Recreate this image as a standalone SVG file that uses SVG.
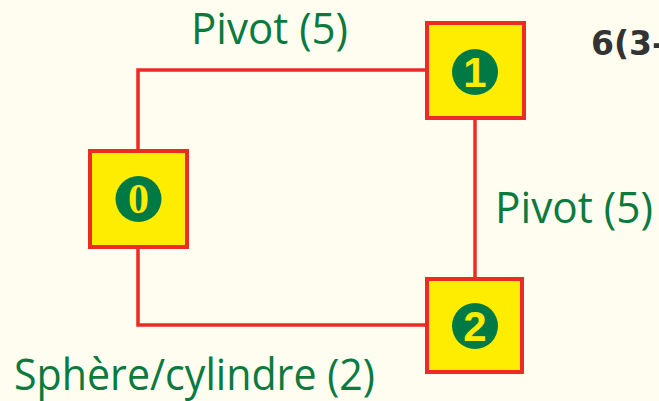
<svg xmlns="http://www.w3.org/2000/svg" width="659" height="401" viewBox="0 0 659 401">
  <style>
    .box { fill: #FFED00; stroke: #EE2A24; stroke-width: 4; }
    .disc { fill: #007A45; }
    .num { fill: #FFED00; font-weight: bold; text-anchor: middle; }
    .sans { font-family: "Liberation Sans", Arial, sans-serif; font-size: 42px; }
    .serif { font-family: "Liberation Serif", "Times New Roman", serif; font-size: 42px; }
    .label { fill: #0B7A3E; font-family: "Open Sans", "Noto Sans", sans-serif; font-size: 43px; }
    .wire { fill: none; stroke: #EE2A24; stroke-width: 3.5; }
  </style>
  <rect width="659" height="401" fill="#FFFDF0"/>

  <g id="connectors">
    <polyline class="wire" points="138,150 138,70 425,70"/>
    <line class="wire" x1="475" y1="119" x2="475" y2="277"/>
    <polyline class="wire" points="138,248 138,325 425,325"/>
  </g>

  <g id="node0">
    <rect class="box" x="90" y="151" width="97" height="96"/>
    <circle class="disc" cx="138.5" cy="199" r="23"/>
    <text class="num serif" x="138.5" y="213">0</text>
  </g>

  <g id="node1">
    <rect class="box" x="427" y="23" width="97" height="95"/>
    <circle class="disc" cx="475" cy="72" r="23"/>
    <text class="num sans" x="475" y="87">1</text>
  </g>

  <g id="node2">
    <rect class="box" x="427" y="279" width="95" height="93"/>
    <circle class="disc" cx="475" cy="326" r="23"/>
    <text class="num sans" x="475" y="341">2</text>
  </g>

  <g id="labels">
    <text class="label" x="191" y="44" textLength="157" lengthAdjust="spacingAndGlyphs">Pivot (5)</text>
    <text class="label" x="495" y="223" textLength="158" lengthAdjust="spacingAndGlyphs">Pivot (5)</text>
    <text class="label" x="14" y="390" textLength="361" lengthAdjust="spacingAndGlyphs">Sphère/cylindre (2)</text>
    <text x="591" y="55" fill="#333333" font-family="'DejaVu Sans', sans-serif" font-weight="bold" font-size="33">6(3-</text>
  </g>
</svg>
